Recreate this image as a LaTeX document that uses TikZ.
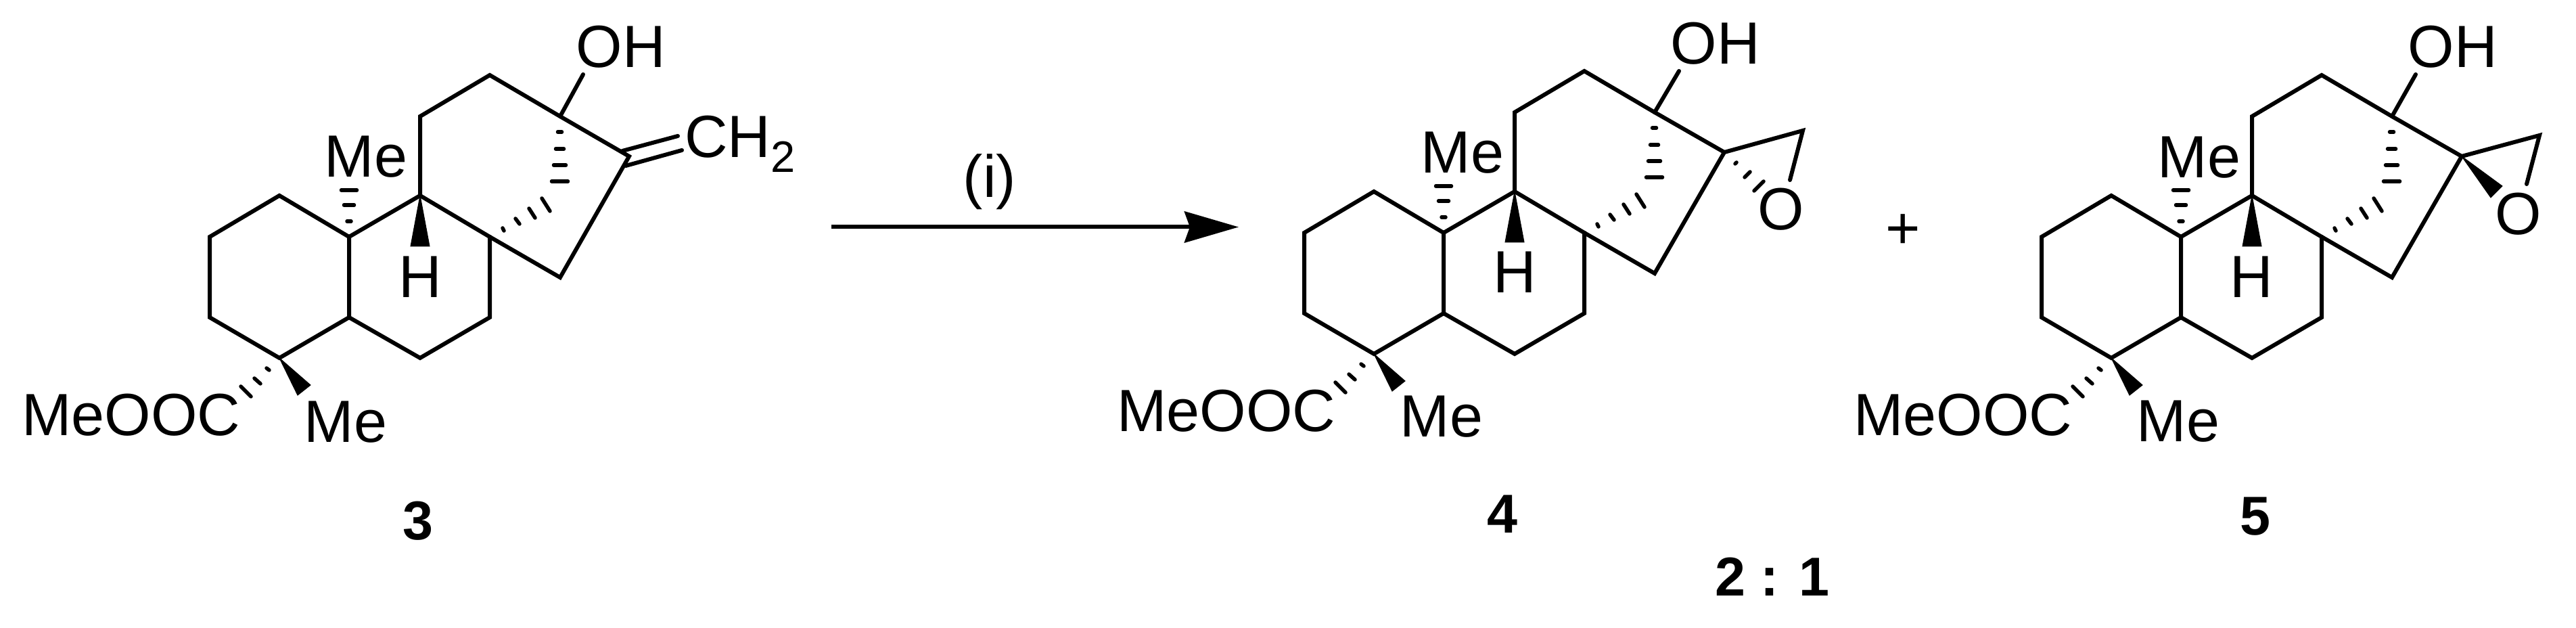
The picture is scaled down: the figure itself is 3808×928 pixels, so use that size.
\documentclass[tikz,border=0pt]{standalone}
\usepackage{fontspec}
\setmainfont{Liberation Sans}
\usetikzlibrary{arrows.meta}
\tikzset{
  bond/.style={line width=0.06cm,line cap=round,line join=miter},
  hashb/.style={line width=0.055cm,line cap=round},
  wedgeb/.style={fill=black,draw=black,line width=0.01cm,line join=miter},
  lab/.style={anchor=base,inner sep=0pt,outer sep=0pt,font=\fontsize{25.04}{30}\selectfont},
  numlab/.style={anchor=base,inner sep=0pt,outer sep=0pt,font=\fontsize{23}{28}\selectfont\bfseries},
  rxnarrow/.style={line width=0.06cm,-{Stealth[length=0.80cm,width=0.46cm,inset=0.08cm]}},
}
% #1 = x of the ring-junction carbon N in the local frame
\newcommand{\skel}[1]{%
  \coordinate (A) at (310,350); \coordinate (B) at (413,289);
  \coordinate (C) at (516,350); \coordinate (D) at (516,469);
  \coordinate (E) at (413,529); \coordinate (F) at (310,469);
  \coordinate (G) at (621,289); \coordinate (Hc) at (724,350);
  \coordinate (I) at (724,469); \coordinate (J) at (621,529);
  \coordinate (K) at (621,172); \coordinate (L) at (724,111);
  \coordinate (M) at (828,172); \coordinate (N) at (#1,231);
  \coordinate (P) at (828,410);
  \coordinate (Wh1) at (607,364); \coordinate (Wh2) at (635,364);
  \coordinate (Wm1) at (440,584); \coordinate (Wm2) at (459,569);
  \draw[bond] (A)--(B)--(C)--(D)--(E)--(F)--cycle;
  \draw[bond] (C)--(G)--(Hc)--(I)--(J)--(D);
  \draw[bond] (G)--(K)--(L)--(M)--(N)--(P)--(Hc);
  \fill[wedgeb] (G)--(Wh1)--(Wh2)--cycle;
  \fill[wedgeb] (E)--(Wm1)--(Wm2)--cycle;
  % hashed bonds
  \foreach \y/\w in {281/11.5,303/7.5,327/3}{\draw[hashb] (516-\w,\y)--(516+\w,\y);}
  \foreach \y/\w in {195/3,220/6,244/9,268/12}{\draw[hashb] (827.5-\w,\y)--(827.5+\w,\y);}
  \draw[hashb] (743,337)--(745,341);
  \draw[hashb] (762,323)--(768,331);
  \draw[hashb] (782,308)--(791,322);
  \draw[hashb] (801,293)--(813,312);
  \draw[hashb] (394,544)--(398,547);
  \draw[hashb] (376,559)--(385,567);
  \draw[hashb] (356,571)--(371,586);
}
\begin{document}
\begin{tikzpicture}[x=0.01cm,y=-0.01cm]
\fill[white] (0,0) rectangle (3808,928);
\useasboundingbox (0,0) rectangle (3808,928);

% ---- compound 3
\begin{scope}[name prefix=a-]
  \skel{930}
  \coordinate (OHe) at (862,110);
  \coordinate (d1s) at (920,223); \coordinate (d1e) at (1002,201);
  \coordinate (d2s) at (925,245); \coordinate (d2e) at (1008,222);
  \draw[bond] (M)--(OHe);
  \draw[bond] (d1s)--(d1e);
  \draw[bond] (d2s)--(d2e);
\end{scope}
\node[lab] (a-me1) at (541,262) {Me};
\node[lab] (a-h) at (621,440) {H};
\node[lab] (a-oh) at (918,100) {OH};
\node[lab,anchor=base west] (a-ch2) at (1012,233) {CH{\fontsize{18.5}{20}\selectfont\raisebox{-0.21cm}{2}}};
\node[lab] (a-ester) at (194,644) {MeOOC};
\node[lab] (a-me2) at (511,654) {Me};
\node[numlab] (a-num) at (618,798) {3};

% ---- arrow
\coordinate (ar1) at (1229,335.5);
\coordinate (ar2) at (1831,335.5);
\draw[rxnarrow] (ar1)--(ar2);
\node[lab] (cond) at (1463,292) {(i)};

% ---- compound 4
\begin{scope}[shift={(1618,-6)},name prefix=b-]
  \skel{931}
  \coordinate (OHe) at (864,111);
  \coordinate (Ep) at (1047,199);
  \coordinate (Oe) at (1028,272);
  \draw[bond] (M)--(OHe);
  \draw[bond] (N)--(Ep)--(Oe);
  \draw[hashb] (947,248)--(949,246);
  \draw[hashb] (961,268)--(969,260);
  \draw[hashb] (975,288)--(989,274);
\end{scope}
\node[lab] (b-me1) at (2162,256) {Me};
\node[lab] (b-h) at (2239,433) {H};
\node[lab] (b-oh) at (2536,95) {OH};
\node[lab] (b-o) at (2633,340) {O};
\node[lab] (b-ester) at (1813,638) {MeOOC};
\node[lab] (b-me2) at (2131,646) {Me};
\node[numlab] (b-num) at (2221,788) {4};
\node[numlab] (ratio) at (2620,880) {2 : 1};

\node[lab] (plus) at (2813,368) {+};

% ---- compound 5
\begin{scope}[shift={(2708,0)},name prefix=c-]
  \skel{931}
  \coordinate (OHe) at (863,110);
  \coordinate (Ep) at (1046,200);
  \coordinate (Oe) at (1027,272);
  \coordinate (Wo1) at (974,292);
  \coordinate (Wo2) at (991,275);
  \draw[bond] (M)--(OHe);
  \draw[bond] (N)--(Ep)--(Oe);
  \fill[wedgeb] (N)--(Wo1)--(Wo2)--cycle;
\end{scope}
\node[lab] (c-me1) at (3251,263) {Me};
\node[lab] (c-h) at (3328,440) {H};
\node[lab] (c-oh) at (3626,100) {OH};
\node[lab] (c-o) at (3723,347) {O};
\node[lab] (c-ester) at (2902,644) {MeOOC};
\node[lab] (c-me2) at (3220,653) {Me};
\node[numlab] (c-num) at (3334,791) {5};
\end{tikzpicture}
\end{document}
